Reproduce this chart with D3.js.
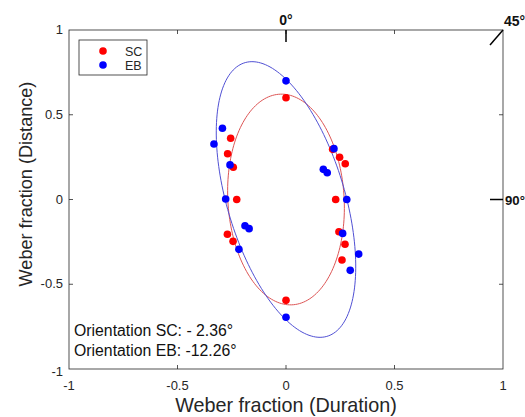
<html lang="en">
<head>
  <meta http-equiv="Content-Type" content="text/html; charset=utf-8" />
  <script src="https://d3js.org/d3.v7.min.js"></script>
  <style>
    body { margin: 0; background: #fff; }
    text { font-family: "Liberation Sans", Arial, sans-serif; }
  </style>
</head>
<body>
  <div id="chart"></div>
  <script>
    // points
    const scX = [0, -0.255, -0.269, -0.243, -0.227, 0.215, 0.247, 0.273, 0.229,
                 -0.27, -0.244, 0.244, 0.272, 0.258, 0];
    const scY = [0.60, 0.361, 0.27, 0.19, 0, 0.296, 0.249, 0.211, 0,
                 -0.205, -0.247, -0.19, -0.264, -0.357, -0.595];
    const ebX = [0, -0.293, -0.332, -0.258, -0.278, 0.221, 0.172, 0.19, 0.28,
                 -0.189, -0.17, -0.217, 0.261, 0.335, 0.296, 0];
    const ebY = [0.70, 0.42, 0.327, 0.204, 0.003, 0.30, 0.178, 0.158, 0,
                 -0.155, -0.172, -0.294, -0.2, -0.322, -0.418, -0.695];

    // fitted ellipses: SC, EB
    const groups = ["SC", "EB"];
    const semiMajor = [0.622, 0.83];
    const semiMinor = [0.268, 0.275];
    const orientation = [-2.36, -12.26];   // degrees from vertical
    const dotColors = ["#ff0000", "#0000ff"];
    const lineColors = ["#dd5555", "#5050d4"];

    const ticks = [-1, -0.5, 0, 0.5, 1];
    const tickLabels = ["-1", "-0.5", "0", "0.5", "1"];

    const svgWidth = 525, svgHeight = 417;
    const margin = {top: 30, right: 22, bottom: 48, left: 69};
    const axisColor = "#262626";

    const svg = d3.select("#chart").append("svg")
      .attr("width", svgWidth).attr("height", svgHeight);

    const x = d3.scaleLinear().domain([-1, 1]).range([margin.left, svgWidth - margin.right]);
    const y = d3.scaleLinear().domain([-1, 1]).range([svgHeight - margin.bottom, margin.top]);

    // axes box, ticks inward
    const tickLen = 4;
    const box = svg.append("g");
    box.append("rect")
      .attr("x", x(-1)).attr("y", y(1))
      .attr("width", x(1) - x(-1)).attr("height", y(-1) - y(1))
      .attr("fill", "none").attr("stroke", axisColor).attr("stroke-width", 0.8);

    const inner = ticks.slice(1, -1);
    inner.forEach(t => {
      box.append("line").attr("x1", x(t)).attr("x2", x(t))
        .attr("y1", y(-1)).attr("y2", y(-1) - tickLen).attr("stroke", axisColor).attr("stroke-width", 0.8);
      box.append("line").attr("x1", x(t)).attr("x2", x(t))
        .attr("y1", y(1)).attr("y2", y(1) + tickLen).attr("stroke", axisColor).attr("stroke-width", 0.8);
      box.append("line").attr("y1", y(t)).attr("y2", y(t))
        .attr("x1", x(-1)).attr("x2", x(-1) + tickLen).attr("stroke", axisColor).attr("stroke-width", 0.8);
      box.append("line").attr("y1", y(t)).attr("y2", y(t))
        .attr("x1", x(1)).attr("x2", x(1) - tickLen).attr("stroke", axisColor).attr("stroke-width", 0.8);
    });

    ticks.forEach((t, i) => {
      svg.append("text").attr("x", x(t)).attr("y", y(-1) + 21)
        .attr("text-anchor", "middle").attr("font-size", 13).attr("fill", axisColor)
        .text(tickLabels[i]);
      svg.append("text").attr("x", x(-1) - 6).attr("y", y(t) + (t === -1 ? 7 : 4))
        .attr("text-anchor", "end").attr("font-size", 13).attr("fill", axisColor)
        .text(tickLabels[i]);
    });

    svg.append("text").attr("x", x(0)).attr("y", 412)
      .attr("text-anchor", "middle").attr("font-size", 19.8).attr("fill", axisColor)
      .text("Weber fraction (Duration)");
    svg.append("text")
      .attr("transform", "translate(32,184) rotate(-90)")
      .attr("text-anchor", "middle").attr("font-size", 18.1).attr("fill", axisColor)
      .text("Weber fraction (Distance)");

    // orientation markers
    const mark = svg.append("g").attr("stroke", "#000").attr("stroke-width", 1.5);
    mark.append("line").attr("x1", x(0)).attr("x2", x(0)).attr("y1", y(1)).attr("y2", y(1) + 12);
    mark.append("line").attr("x1", x(1)).attr("x2", x(1) - 13).attr("y1", y(1)).attr("y2", y(1) + 15);
    mark.append("line").attr("x1", x(1) - 13).attr("x2", x(1)).attr("y1", y(0)).attr("y2", y(0));
    const angleText = (tx, ty, anchor, s, size) => svg.append("text")
      .attr("x", tx).attr("y", ty).attr("text-anchor", anchor)
      .attr("font-size", size).attr("font-weight", "bold").attr("fill", "#111").text(s);
    angleText(x(0), y(1) - 5, "middle", "0°", 14);
    angleText(x(1) + 1, y(1) - 4, "start", "45°", 14);
    angleText(x(1) + 2, y(0) + 5, "start", "90°", 13.2);

    // ellipses
    const line = d3.line().x(d => x(d[0])).y(d => y(d[1]));
    groups.forEach((g, i) => {
      const th = orientation[i] * Math.PI / 180;
      const pts = d3.range(0, 361, 2).map(deg => {
        const t = deg * Math.PI / 180;
        const u = semiMajor[i] * Math.cos(t), v = semiMinor[i] * Math.sin(t);
        return [u * Math.sin(th) + v * Math.cos(th), u * Math.cos(th) - v * Math.sin(th)];
      });
      svg.append("path").attr("d", line(pts)).attr("fill", "none")
        .attr("stroke", lineColors[i]).attr("stroke-width", 1);
    });

    // points
    const drawDots = (xs, ys, color) => svg.append("g").selectAll("circle")
      .data(xs.map((v, k) => [v, ys[k]])).join("circle")
      .attr("cx", d => x(d[0])).attr("cy", d => y(d[1])).attr("r", 3.8).attr("fill", color);
    drawDots(scX, scY, dotColors[0]);
    drawDots(ebX, ebY, dotColors[1]);

    // legend
    const lg = svg.append("g");
    lg.append("rect").attr("x", 79).attr("y", 40).attr("width", 68).attr("height", 35)
      .attr("fill", "#fff").attr("stroke", axisColor).attr("stroke-width", 0.8);
    groups.forEach((g, i) => {
      lg.append("circle").attr("cx", 103).attr("cy", 51 + i * 14).attr("r", 3.8).attr("fill", dotColors[i]);
      lg.append("text").attr("x", 125).attr("y", 55.5 + i * 14).attr("font-size", 12.5)
        .attr("fill", axisColor).text(g);
    });

    // orientation notes
    svg.append("text").attr("x", 74).attr("y", 336).attr("font-size", 15.8).attr("fill", "#111")
      .text("Orientation SC: - 2.36°");
    svg.append("text").attr("x", 74).attr("y", 356).attr("font-size", 15.8).attr("fill", "#111")
      .text("Orientation EB: -12.26°");
  </script>
</body>
</html>
